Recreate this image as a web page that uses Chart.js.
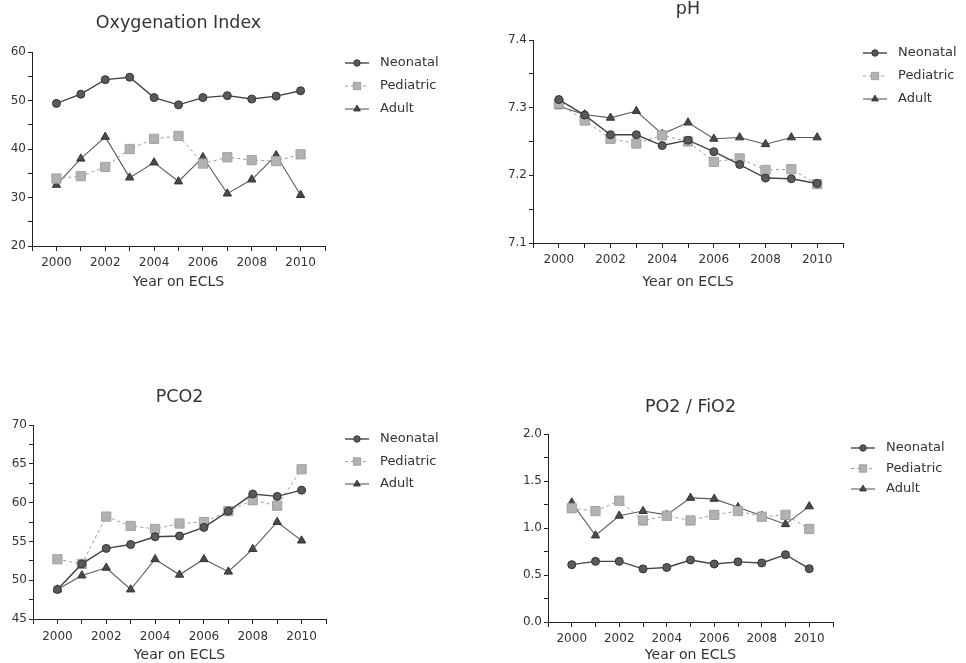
<!DOCTYPE html>
<html>
<head>
<meta charset="utf-8">
<script src="https://cdn.jsdelivr.net/npm/chart.js@4.4.1/dist/chart.umd.min.js"></script>
<style>
body { margin: 0; background: #fff; width: 966px; height: 663px; position: relative; overflow: hidden; }
canvas { position: absolute; }
</style>
</head>
<body>
<canvas id="oi"></canvas>
<canvas id="ph"></canvas>
<canvas id="pco2"></canvas>
<canvas id="pf"></canvas>
<script>
// values
const years = [2000, 2001, 2002, 2003, 2004, 2005, 2006, 2007, 2008, 2009, 2010];
const seriesNames = ['Neonatal', 'Pediatric', 'Adult'];

const oiNeonatal = [49.4, 51.3, 54.3, 54.8, 50.6, 49.1, 50.6, 51.0, 50.3, 50.9, 52.0];
const oiPediatric = [33.9, 34.4, 36.3, 40.0, 42.1, 42.7, 37.0, 38.3, 37.7, 37.5, 38.9];
const oiAdult = [32.6, 38.0, 42.5, 34.1, 37.2, 33.3, 38.3, 30.8, 33.7, 38.7, 30.5];

const phNeonatal = [7.312, 7.289, 7.260, 7.260, 7.244, 7.252, 7.235, 7.216, 7.196, 7.195, 7.188];
const phPediatric = [7.306, 7.281, 7.254, 7.247, 7.259, 7.250, 7.220, 7.225, 7.208, 7.209, 7.187];
const phAdult = [7.302, 7.290, 7.285, 7.295, 7.261, 7.278, 7.254, 7.256, 7.246, 7.256, 7.256];

const pco2Neonatal = [48.8, 52.1, 54.1, 54.6, 55.6, 55.7, 56.8, 58.9, 61.1, 60.8, 61.6];
const pco2Pediatric = [52.7, 52.1, 58.2, 57.0, 56.6, 57.3, 57.5, 58.9, 60.3, 59.6, 64.3];
const pco2Adult = [48.8, 50.6, 51.6, 48.8, 52.7, 50.7, 52.7, 51.1, 54.0, 57.5, 55.1];

const pfNeonatal = [0.61, 0.645, 0.645, 0.565, 0.58, 0.66, 0.617, 0.64, 0.628, 0.716, 0.567];
const pfPediatric = [1.21, 1.18, 1.29, 1.08, 1.13, 1.08, 1.14, 1.18, 1.12, 1.14, 0.99];
const pfAdult = [1.27, 0.92, 1.13, 1.18, 1.14, 1.32, 1.31, 1.22, 1.13, 1.04, 1.23];

const FONT = '"DejaVu Sans", sans-serif';
const TEXT = '#333';
const AXIS = '#222';

const seriesStyle = [
    { borderColor: '#444', borderWidth: 1.4, borderDash: [], pointStyle: 'circle', pointRadius: 4,
      pointBackgroundColor: '#5a5a5a', pointBorderColor: '#333' },
    { borderColor: '#9c9c9c', borderWidth: 1, borderDash: [3, 3], pointStyle: 'rect', pointRadius: 6.5,
      pointBackgroundColor: '#b2b2b2', pointBorderColor: '#a0a0a0' },
    { borderColor: '#5a5a5a', borderWidth: 1.1, borderDash: [], pointStyle: 'triangle', pointRadius: 4.8,
      pointBackgroundColor: '#4a4a4a', pointBorderColor: '#333' }
];

// title and legend drawn like the original figure (line + marker + label)
const panelDecor = {
    id: 'panelDecor',
    afterDraw(chart, args, opts) {
        const ctx = chart.ctx;
        const area = chart.chartArea;
        ctx.save();
        ctx.fillStyle = TEXT;
        ctx.font = '17.5px ' + FONT;
        ctx.textAlign = 'center';
        ctx.textBaseline = 'middle';
        ctx.fillText(opts.title, (area.left + area.right) / 2, opts.titleY);

        ctx.font = '13px ' + FONT;
        ctx.textAlign = 'left';
        chart.data.datasets.forEach((ds, i) => {
            const y = opts.legendY + i * opts.legendGap;
            const x = opts.legendX;
            ctx.strokeStyle = ds.borderColor;
            ctx.lineWidth = ds.borderWidth;
            ctx.setLineDash(ds.borderDash);
            ctx.beginPath();
            ctx.moveTo(x, y);
            ctx.lineTo(x + 24, y);
            ctx.stroke();
            ctx.setLineDash([]);
            ctx.fillStyle = ds.pointBackgroundColor;
            ctx.strokeStyle = ds.pointBorderColor;
            ctx.lineWidth = 1;
            Chart.helpers.drawPoint(ctx, { pointStyle: ds.pointStyle, radius: ds.pointRadius * 0.8, rotation: 0, borderWidth: 1 }, x + 12, y);
            ctx.fillStyle = TEXT;
            ctx.fillText(ds.label, x + 35, y);
        });
        ctx.restore();
    }
};

function makePanel(id, pos, area, cfg) {
    const canvas = document.getElementById(id);
    canvas.width = pos.w;
    canvas.height = pos.h;
    canvas.style.left = pos.left + 'px';
    canvas.style.top = pos.top + 'px';
    canvas.style.width = pos.w + 'px';
    canvas.style.height = pos.h + 'px';

    const datasets = cfg.series.map((vals, i) => Object.assign({
        label: seriesNames[i],
        data: years.map((yr, j) => ({ x: yr, y: vals[j] })),
        tension: 0,
        pointBorderWidth: 1,
        fill: false
    }, seriesStyle[i]));

    return new Chart(canvas.getContext('2d'), {
        type: 'line',
        data: { datasets: datasets },
        plugins: [panelDecor],
        options: {
            responsive: false,
            animation: false,
            layout: { padding: { left: 0, top: area.top, right: pos.w - area.right, bottom: 0 } },
            plugins: {
                legend: { display: false },
                tooltip: { enabled: false },
                panelDecor: {
                    title: cfg.title, titleY: cfg.titleY,
                    legendX: cfg.legendX, legendY: cfg.legendY, legendGap: cfg.legendGap
                }
            },
            scales: {
                x: {
                    type: 'linear',
                    min: 1999,
                    max: 2011,
                    afterFit: s => { s.height = pos.h - area.bottom; },
                    border: { display: true, color: AXIS, width: 1 },
                    grid: { drawOnChartArea: false, drawTicks: true, tickLength: 5, color: AXIS },
                    ticks: {
                        stepSize: 1,
                        padding: cfg.xPad,
                        maxRotation: 0,
                        autoSkip: false,
                        color: TEXT,
                        font: { family: FONT, size: 12 },
                        callback: v => (v >= 2000 && v <= 2010 && v % 2 === 0) ? String(v) : ''
                    },
                    title: {
                        display: true,
                        text: 'Year on ECLS',
                        color: TEXT,
                        font: { family: FONT, size: 14 },
                        padding: { top: 2, bottom: 2 }
                    }
                },
                y: {
                    min: cfg.yMin,
                    max: cfg.yMax,
                    afterFit: s => { s.width = area.left; },
                    border: { display: true, color: AXIS, width: 1 },
                    grid: { drawOnChartArea: false, drawTicks: true, tickLength: 4, color: AXIS },
                    ticks: {
                        stepSize: cfg.yStep,
                        padding: 2,
                        autoSkip: false,
                        color: TEXT,
                        font: { family: FONT, size: 12 },
                        callback: cfg.yLabel
                    }
                }
            }
        }
    });
}

makePanel('oi', { left: 0, top: 0, w: 480, h: 293 }, { left: 32, right: 325, top: 52, bottom: 246 }, {
    title: 'Oxygenation Index', titleY: 23,
    legendX: 345, legendY: 63, legendGap: 23,
    series: [oiNeonatal, oiPediatric, oiAdult],
    yMin: 20, yMax: 60, yStep: 5, xPad: 5,
    yLabel: v => Math.round(v) % 10 === 0 ? String(Math.round(v)) : ''
});

makePanel('ph', { left: 483, top: 0, w: 483, h: 293 }, { left: 50, right: 360, top: 40, bottom: 243 }, {
    title: 'pH', titleY: 9,
    legendX: 380, legendY: 53, legendGap: 23,
    series: [phNeonatal, phPediatric, phAdult],
    yMin: 7.1, yMax: 7.4, yStep: 0.05, xPad: 5,
    yLabel: v => Math.round(v * 100) % 10 === 0 ? v.toFixed(1) : ''
});

makePanel('pco2', { left: 0, top: 380, w: 480, h: 286 }, { left: 33, right: 326, top: 45, bottom: 239 }, {
    title: 'PCO2', titleY: 17,
    legendX: 345, legendY: 59, legendGap: 22.5,
    series: [pco2Neonatal, pco2Pediatric, pco2Adult],
    yMin: 45, yMax: 70, yStep: 2.5, xPad: 6,
    yLabel: v => Math.round(v * 10) % 50 === 0 ? String(Math.round(v)) : ''
});

makePanel('pf', { left: 483, top: 380, w: 483, h: 286 }, { left: 65, right: 350, top: 54, bottom: 242 }, {
    title: 'PO2 / FiO2', titleY: 27,
    legendX: 368, legendY: 68, legendGap: 20.5,
    series: [pfNeonatal, pfPediatric, pfAdult],
    yMin: 0, yMax: 2, yStep: 0.25, xPad: 5,
    yLabel: v => Math.round(v * 100) % 50 === 0 ? v.toFixed(1) : ''
});
</script>
</body>
</html>
